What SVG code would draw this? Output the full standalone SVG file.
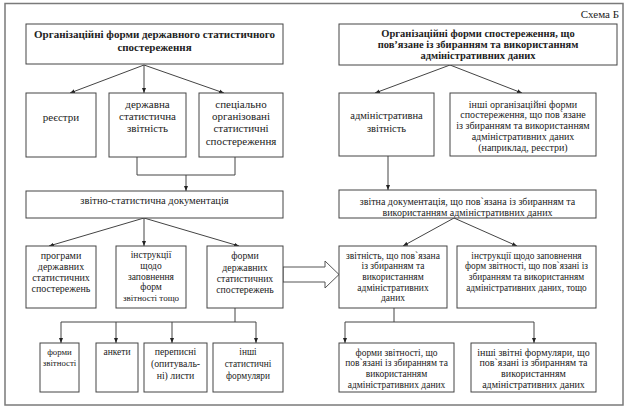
<svg xmlns="http://www.w3.org/2000/svg" width="629" height="409" viewBox="0 0 629 409">
<defs>
<marker id="ah" viewBox="0 0 10 10" refX="10" refY="5" markerWidth="5" markerHeight="5" orient="auto" markerUnits="userSpaceOnUse">
<path d="M0,1 L10,5 L0,9 z" fill="#222"/>
</marker>
<style>
.box{fill:#fff;stroke:#444;stroke-width:1}
.t{font-family:"Liberation Serif","Times New Roman",serif;font-size:11px;fill:#222;text-anchor:middle}
.b{font-weight:bold;font-size:11px}
.s{font-size:10px}
.c{fill:none;stroke:#444;stroke-width:1}
.a{fill:none;stroke:#444;stroke-width:1;marker-end:url(#ah)}
</style>
</defs>
<rect width="629" height="409" fill="#fff"/>
<rect x="5" y="3.5" width="618" height="401.5" fill="none" stroke="#7a7a7a" stroke-width="1.5"/>
<text class="t" x="619" y="18" style="text-anchor:end">Схема Б</text>

<g id="connectors">
<line class="a" x1="144" y1="65" x2="70" y2="93"/>
<line class="a" x1="144" y1="65" x2="144" y2="93"/>
<line class="a" x1="144" y1="65" x2="224" y2="93"/>
<polyline class="c" points="137,157 137,175 235,175 235,157"/>
<line class="a" x1="186" y1="175" x2="186" y2="191"/>
<line class="a" x1="144" y1="218" x2="49" y2="246"/>
<line class="a" x1="144" y1="218" x2="144" y2="246"/>
<line class="a" x1="144" y1="218" x2="239" y2="246"/>
<line class="c" x1="235" y1="308" x2="235" y2="322"/>
<line class="c" x1="61" y1="322" x2="256" y2="322"/>
<line class="a" x1="61" y1="322" x2="61" y2="343"/>
<line class="a" x1="116" y1="322" x2="116" y2="343"/>
<line class="a" x1="172" y1="322" x2="172" y2="343"/>
<line class="a" x1="256" y1="322" x2="256" y2="343"/>
<polygon points="283,267 325,267 325,261 339,274.5 325,288 325,282 283,282" fill="#fff" stroke="#555" stroke-width="1"/>
<line class="a" x1="450" y1="65" x2="375" y2="93"/>
<line class="a" x1="450" y1="65" x2="522" y2="93"/>
<line class="a" x1="388" y1="156" x2="388" y2="190"/>
<line class="a" x1="454" y1="218" x2="403" y2="246"/>
<line class="a" x1="454" y1="218" x2="517" y2="246"/>
<line class="c" x1="394" y1="308" x2="394" y2="322"/>
<line class="c" x1="345" y1="322" x2="534" y2="322"/>
<line class="a" x1="345" y1="322" x2="345" y2="343"/>
<line class="a" x1="534" y1="322" x2="534" y2="343"/>
</g>

<g id="n1"><rect class="box" x="26" y="24" width="257" height="40"/>
<text class="t b" x="154.5" y="38">Організаційні форми державного статистичного</text>
<text class="t b" x="154.5" y="51">спостереження</text></g>

<g id="n2"><rect class="box" x="26" y="93" width="70" height="64"/>
<text class="t" x="61" y="121">реєстри</text></g>

<g id="n3"><rect class="box" x="109" y="93" width="77" height="64"/>
<text class="t" x="147.5" y="108">державна</text>
<text class="t" x="147.5" y="120">статистична</text>
<text class="t" x="147.5" y="132">звітність</text></g>

<g id="n4"><rect class="box" x="199" y="93" width="84" height="64"/>
<text class="t" x="241" y="108">спеціально</text>
<text class="t" x="241" y="120">організовані</text>
<text class="t" x="241" y="132">статистичні</text>
<text class="t" x="241" y="145">спостереження</text></g>

<g id="n5"><rect class="box" x="26" y="191" width="257" height="27"/>
<text class="t" x="154.5" y="204" style="font-size:10.5px">звітно-статистична документація</text></g>

<g id="n6" style="font-size:10px"><rect class="box" x="26" y="246" width="70" height="62"/>
<text class="t" x="61" y="259" style="font-size:10px">програми</text>
<text class="t" x="61" y="270" style="font-size:10px">державних</text>
<text class="t" x="61" y="281" style="font-size:10px">статистичних</text>
<text class="t" x="61" y="292" style="font-size:10px">спостережень</text></g>

<g id="n7"><rect class="box" x="116" y="246" width="70" height="62"/>
<text class="t" x="151" y="258" style="font-size:9.5px">інструкції</text>
<text class="t" x="151" y="269" style="font-size:9.5px">щодо</text>
<text class="t" x="151" y="279.5" style="font-size:9.5px">заповнення</text>
<text class="t" x="151" y="290" style="font-size:9.5px">форм</text>
<text class="t" x="151" y="300.5" style="font-size:9px">звітності тощо</text></g>

<g id="n8"><rect class="box" x="207" y="246" width="76" height="62"/>
<text class="t" x="245" y="259" style="font-size:9.8px">форми</text>
<text class="t" x="245" y="271" style="font-size:9.8px">державних</text>
<text class="t" x="245" y="282" style="font-size:9.8px">статистичних</text>
<text class="t" x="245" y="293" style="font-size:9.8px">спостережень</text></g>

<g id="n9"><rect class="box" x="40" y="343" width="39" height="49"/>
<text class="t" x="59.5" y="355" style="font-size:8.8px">форми</text>
<text class="t" x="59.5" y="366" style="font-size:8.8px">звітності</text></g>

<g id="n10"><rect class="box" x="96" y="343" width="42" height="49"/>
<text class="t" x="117" y="355" style="font-size:9.5px">анкети</text></g>

<g id="n11"><rect class="box" x="144" y="343" width="63" height="49"/>
<text class="t" x="175.5" y="355" style="font-size:9.8px">переписні</text>
<text class="t" x="175.5" y="367" style="font-size:9.8px">(опитуваль-</text>
<text class="t" x="175.5" y="379" style="font-size:9.8px">ні) листи</text></g>

<g id="n12"><rect class="box" x="213" y="343" width="70" height="49"/>
<text class="t" x="248" y="355" style="font-size:9.3px">інші</text>
<text class="t" x="248" y="367" style="font-size:9.3px">статистичні</text>
<text class="t" x="248" y="379" style="font-size:9.3px">формуляри</text></g>

<g id="n13"><rect class="box" x="339" y="24" width="278" height="41"/>
<text class="t b" x="478" y="36.5" style="font-size:10.5px">Організаційні форми спостереження, що</text>
<text class="t b" x="478" y="47.5" style="font-size:10.5px">пов’язане із збиранням та використанням</text>
<text class="t b" x="478" y="58.5" style="font-size:10.5px">адміністративних даних</text></g>

<g id="n14"><rect class="box" x="339" y="93" width="95" height="63"/>
<text class="t" x="386.5" y="119" style="font-size:10.5px">адміністративна</text>
<text class="t" x="386.5" y="132" style="font-size:10.5px">звітність</text></g>

<g id="n15"><rect class="box" x="450" y="93" width="146" height="63"/>
<text class="t s" x="523" y="107.5">інші організаційні форми</text>
<text class="t s" x="523" y="118">спостереження, що пов`язане</text>
<text class="t s" x="523" y="129">із збиранням та використанням</text>
<text class="t s" x="523" y="140">адміністративних даних</text>
<text class="t s" x="523" y="151">(наприклад, реєстри)</text></g>

<g id="n16"><rect class="box" x="339" y="190" width="257" height="28"/>
<text class="t s" x="467.5" y="204.5">звітна документація, що пов`язана із збиранням та</text>
<text class="t s" x="467.5" y="215.5">використанням адміністративних даних</text></g>

<g id="n17"><rect class="box" x="339" y="246" width="108" height="62"/>
<text class="t" x="393" y="258.5" style="font-size:9.5px">звітність, що пов`язана</text>
<text class="t" x="393" y="269.2" style="font-size:9.5px">із збиранням та</text>
<text class="t" x="393" y="279.9" style="font-size:9.5px">використанням</text>
<text class="t" x="393" y="290.6" style="font-size:9.5px">адміністративних</text>
<text class="t" x="393" y="301.3" style="font-size:9.5px">даних</text></g>

<g id="n18"><rect class="box" x="457" y="246" width="139" height="62"/>
<text class="t" x="526.5" y="258.5" style="font-size:9.3px">інструкції щодо заповнення</text>
<text class="t" x="526.5" y="269.2" style="font-size:9.3px">форм звітності, що пов`язані із</text>
<text class="t" x="526.5" y="279.9" style="font-size:9.3px">збиранням та використанням</text>
<text class="t" x="526.5" y="290.6" style="font-size:9.3px">адміністративних даних, тощо</text></g>

<g id="n19"><rect class="box" x="339" y="343" width="115" height="49"/>
<text class="t" x="396.5" y="355.5" style="font-size:9.5px">форми звітності, що</text>
<text class="t" x="396.5" y="366.3" style="font-size:9.5px">пов`язані із збиранням та</text>
<text class="t" x="396.5" y="377.1" style="font-size:9.5px">використанням</text>
<text class="t" x="396.5" y="387.9" style="font-size:9.5px">адміністративних даних</text></g>

<g id="n20"><rect class="box" x="471" y="343" width="125" height="49"/>
<text class="t s" x="533.5" y="355.5">інші звітні формуляри, що</text>
<text class="t s" x="533.5" y="366.3">пов`язані із збиранням та</text>
<text class="t s" x="533.5" y="377.1">використанням</text>
<text class="t s" x="533.5" y="387.9">адміністративних даних</text></g>
</svg>
